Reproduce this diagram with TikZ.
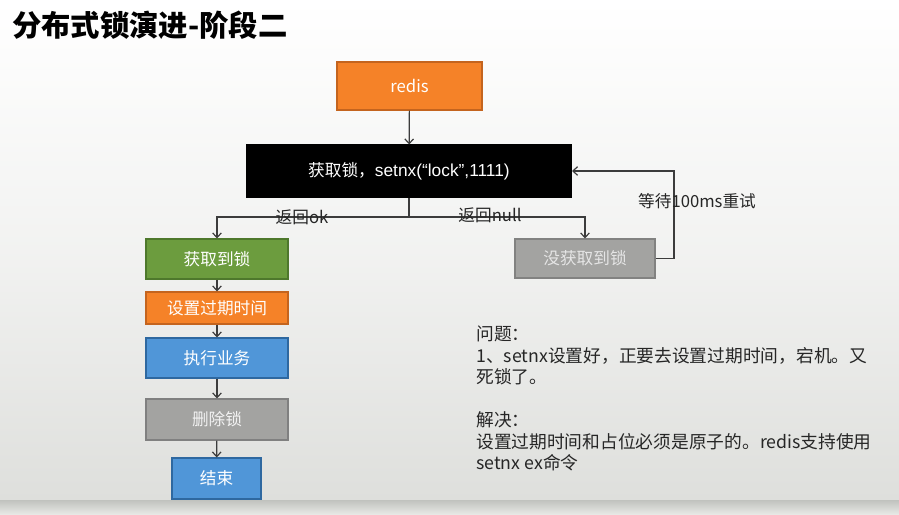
\documentclass[tikz,border=0pt]{standalone}
\usepackage{fontspec}
\setmainfont{Noto Sans CJK SC}
\newfontfamily\latinfont{Liberation Sans}
\usepackage{tikz}
\usepackage{xcolor}
\usetikzlibrary{arrows.meta}

\definecolor{orangefill}{RGB}{245,130,40}
\definecolor{orangeedge}{RGB}{196,100,30}
\definecolor{greenfill}{RGB}{108,156,62}
\definecolor{greenedge}{RGB}{78,120,44}
\definecolor{bluefill}{RGB}{80,150,216}
\definecolor{blueedge}{RGB}{46,104,160}
\definecolor{grayfill}{RGB}{163,163,161}
\definecolor{grayedge}{RGB}{128,128,128}
\definecolor{bgbottom}{RGB}{222,223,220}
\definecolor{bgband}{RGB}{192,194,190}
\definecolor{bglow}{RGB}{231,232,229}
\definecolor{linecol}{RGB}{60,60,60}

\tikzset{
  box/.style={draw, rectangle, inner sep=0pt, line width=0.8pt, text=white,
    font=\fontsize{12.5}{14}\selectfont},
  link/.style={-{Straight Barb[length=3.5pt,width=6.5pt]}, line width=0.9pt, draw=linecol},
  note/.style={inner sep=0pt, text=black!85, font=\fontsize{12.5}{14}\selectfont}
}

\begin{document}
\begin{tikzpicture}[x=0.75pt,y=-0.75pt]
\useasboundingbox (0,0) rectangle (899,514);
\shade[top color=white, bottom color=bgbottom, middle color=white!60!bgbottom] (0,0) rectangle (899,500);
\shade[top color=bgband, bottom color=bglow] (0,500) rectangle (899,514);
%\node at (0,0) {};
\node[anchor=west, inner sep=0pt, font=\fontsize{22}{26}\selectfont\bfseries] (title) at (12,25) {分布式锁演进-阶段二};
\node[box, fill=orangefill, draw=orangeedge, minimum width=108.75pt, minimum height=36pt] (redis) at (409.5,86) {redis};
\node[box, fill=black, draw=black, minimum width=243.75pt, minimum height=39pt] (lock) at (409,171) {获取锁，{\latinfont\fontsize{13}{14}\selectfont setnx(“lock”,1111)}};
\node[box, fill=greenfill, draw=greenedge, minimum width=106.5pt, minimum height=30pt] (got) at (217,259) {获取到锁};
\node[box, fill=orangefill, draw=orangeedge, minimum width=106.5pt, minimum height=24pt] (expire) at (217,308) {设置过期时间};
\node[box, fill=bluefill, draw=blueedge, minimum width=106.5pt, minimum height=30pt] (work) at (217,358) {执行业务};
\node[box, fill=grayfill, draw=grayedge, text=white!95!black, minimum width=106.5pt, minimum height=30.75pt] (unlock) at (217,419.5) {删除锁};
\node[box, fill=bluefill, draw=blueedge, minimum width=66.75pt, minimum height=30.75pt] (finish) at (216.5,478.5) {结束};
\node[box, fill=grayfill, draw=grayfill!80!black, text=white!90!black, minimum width=105pt, minimum height=29.25pt] (fail) at (585,258.5) {没获取到锁};
\coordinate (split) at (409,217);
\coordinate (retry) at (674,171);
\draw[link] (redis) -- (lock);
\draw[line width=0.9pt, draw=linecol] (lock.south) -- (split);
\draw[link] (split) -| (got.north);
\draw[link] (split) -| (fail.north);
\draw[link] (got) -- (expire);
\draw[link] (expire) -- (work);
\draw[link] (work) -- (unlock);
\draw[link] (unlock) -- (finish);
\draw[link] (fail.east) -| (retry) -- (lock.east);
\node[note] (ok) at (302,217) {返回ok};
\node[note] (null) at (490,215) {返回null};
\node[note] (wait) at (697,201) {等待100ms重试};
\node[note, anchor=north west, align=left, font=\fontsize{13.3}{16.1}\selectfont] (issue) at (476,326)
  {问题：\\1、setnx设置好，正要去设置过期时间，宕机。又\\死锁了。\\[16.1pt]解决：\\设置过期时间和占位必须是原子的。redis支持使用\\setnx ex命令};
\end{tikzpicture}
\end{document}
